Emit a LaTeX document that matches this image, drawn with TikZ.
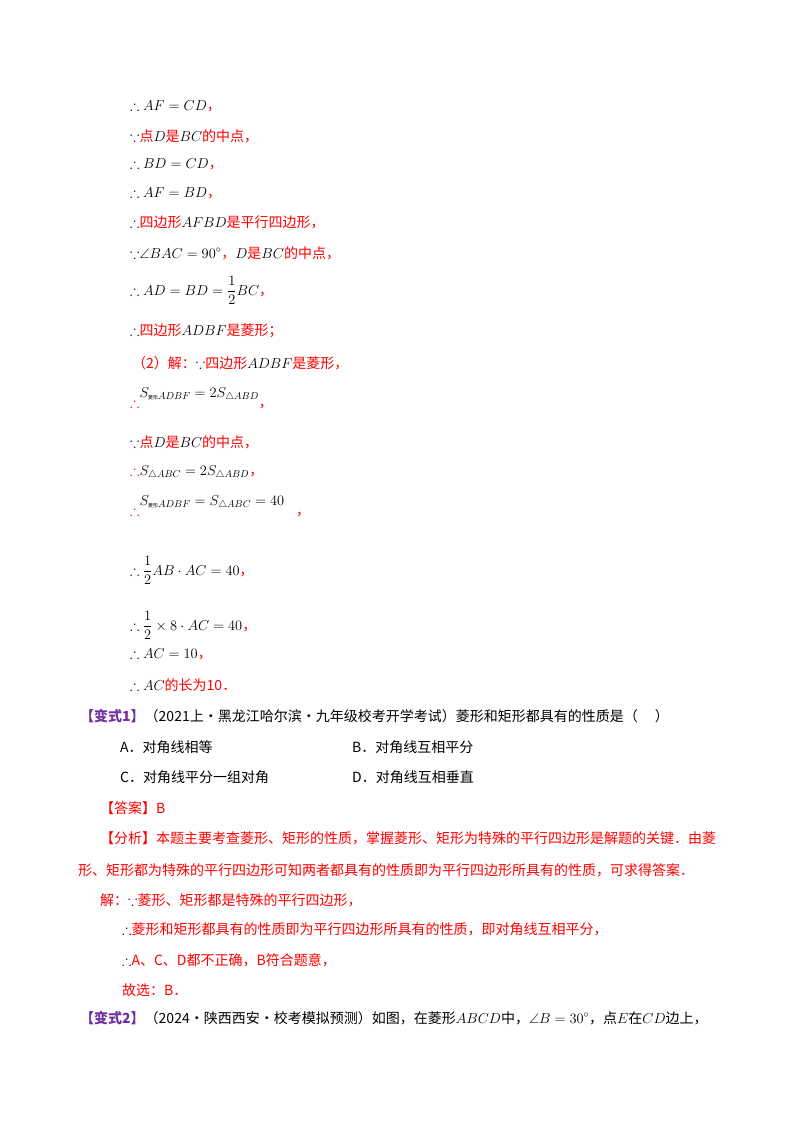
\documentclass[tikz,border=0pt]{standalone}
\usepackage{fontspec}
\usepackage{amsmath,amssymb}
\setmainfont{Liberation Serif}
\newfontfamily\cjk{Noto Sans CJK SC}
\definecolor{rd}{RGB}{255,0,0}
\definecolor{pp}{RGB}{112,48,160}
\newcommand{\R}[1]{\textcolor{rd}{\cjk #1}}
\newcommand{\thf}{$\therefore$}
\newcommand{\bcs}{$\because$}
\begin{document}
\begin{tikzpicture}[x=1pt,y=-1pt,
  ln/.style={anchor=base west,inner sep=0pt,font=\fontsize{14}{16}\selectfont}]
\useasboundingbox (0,0) rectangle (800,1132);
\fill[white] (0,0) rectangle (800,1132);
\node[ln] (l1) at (130,110) {\thf\ $AF=CD$\R{，}};
\node[ln] (l2) at (130,141) {\bcs\R{点}$D$\R{是}$BC$\R{的中点，}};
\node[ln] (l3) at (130,168) {\thf\ $BD=CD$\R{，}};
\node[ln] (l4) at (130,197) {\thf\ $AF=BD$\R{，}};
\node[ln] (l5) at (130,227) {\thf\R{四边形}$AFBD$\R{是平行四边形，}};
\node[ln] (l6) at (130,258) {\bcs$\angle BAC=90^\circ$\R{，}$D$\R{是}$BC$\R{的中点，}};
\node[ln] (l7) at (130,295) {\thf\ $AD=BD=\dfrac{1}{2}BC$\R{，}};
\node[ln] (l8) at (130,335) {\thf\R{四边形}$ADBF$\R{是菱形；}};
\node[ln] (l9) at (132,368) {\R{（2）解：}\bcs\R{四边形}$ADBF$\R{是菱形，}};
\node[ln] (l10) at (130,407) {\textcolor{rd}{$\therefore$}\raisebox{10pt}{$S_{\text{\cjk\tiny 菱形}ADBF}=2S_{\triangle ABD}$}\R{，}};
\node[ln] (l11) at (130,447) {\bcs\R{点}$D$\R{是}$BC$\R{的中点，}};
\node[ln] (l12) at (130,475) {\textcolor{rd}{$\therefore$}$S_{\triangle ABC}=2S_{\triangle ABD}$\R{，}};
\node[ln] (l13) at (130,515) {\textcolor{rd}{$\therefore$}\raisebox{10pt}{$S_{\text{\cjk\tiny 菱形}ADBF}=S_{\triangle ABC}=40$}\hspace{12pt}\R{，}};
\node[ln] (l14) at (130,575) {\thf\ $\dfrac{1}{2}AB\cdot AC=40$\R{，}};
\node[ln] (l15) at (130,630) {\thf\ $\dfrac{1}{2}\times 8\cdot AC=40$\R{，}};
\node[ln] (l16) at (130,658) {\thf\ $AC=10$\R{，}};
\node[ln] (l17) at (130,690) {\thf\ $AC$\R{的长为10．}};
\node[ln] (v1) at (80,721) {\textcolor{pp}{\cjk\bfseries 【变式1】}{\cjk（2021上·黑龙江哈尔滨·九年级校考开学考试）菱形和矩形都具有的性质是（\quad\ ）}};
\node[ln] (oa) at (120,752) {\cjk A．对角线相等};
\node[ln] (ob) at (352,752) {\cjk B．对角线互相平分};
\node[ln] (oc) at (120,782) {\cjk C．对角线平分一组对角};
\node[ln] (od) at (352,782) {\cjk D．对角线互相垂直};
\node[ln] (ans) at (100,813) {\R{【答案】B}};
\node[ln] (fx1) at (100,843) {\R{【分析】本题主要考查菱形、矩形的性质，掌握菱形、矩形为特殊的平行四边形是解题的关键．由菱}};
\node[ln] (fx2) at (78,875) {\R{形、矩形都为特殊的平行四边形可知两者都具有的性质即为平行四边形所具有的性质，可求得答案．}};
\node[ln] (j1) at (100,905) {\R{解：}\bcs\R{菱形、矩形都是特殊的平行四边形，}};
\node[ln] (j2) at (122,934) {\thf\R{菱形和矩形都具有的性质即为平行四边形所具有的性质，即对角线互相平分，}};
\node[ln] (j3) at (122,965) {\thf\R{A、C、D都不正确，B符合题意，}};
\node[ln] (j4) at (122,995) {\R{故选：B．}};
\node[ln] (v2) at (80,1023) {\textcolor{pp}{\cjk\bfseries 【变式2】}{\cjk（2024·陕西西安·校考模拟预测）如图，在菱形}$ABCD${\cjk 中，}$\angle B=30^\circ${\cjk ，点}$E${\cjk 在}$CD${\cjk 边上，}};
\end{tikzpicture}
\end{document}
